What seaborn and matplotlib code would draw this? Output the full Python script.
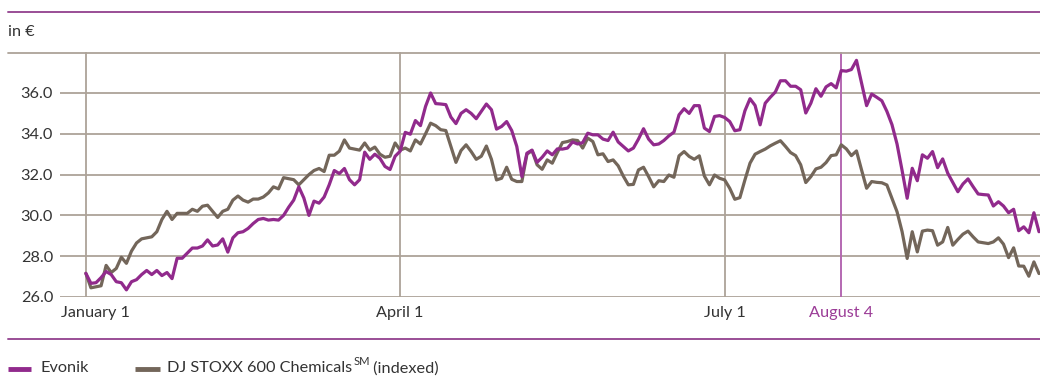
import matplotlib
matplotlib.use("Agg")
import matplotlib.pyplot as plt
from matplotlib.lines import Line2D
from matplotlib.transforms import ScaledTranslation
import pandas as pd
import seaborn as sns

# Daily closing prices 2015 (EUR), one value per trading session;
# the index is rebased to the Evonik start value
evonik = [
    27.16, 26.67, 26.70, 26.95, 27.25, 27.10, 26.75, 26.70, 26.35, 26.75,
    26.85, 27.10, 27.30, 27.10, 27.30, 27.05, 27.20, 26.90, 27.90, 27.90,
    28.15, 28.40, 28.40, 28.50, 28.80, 28.50, 28.55, 28.85, 28.20, 28.90,
    29.15, 29.20,
    29.36, 29.60, 29.80, 29.85, 29.77, 29.80, 29.77, 30.00, 30.40, 30.75,
    31.40, 30.85, 30.00, 30.70, 30.60, 30.90, 31.50, 32.20, 32.05, 32.30,
    31.75, 31.50, 31.75, 33.10, 32.75, 33.00, 32.80, 32.40, 32.25, 32.90,
    33.15,
    34.07, 33.98, 34.65, 34.40, 35.34, 36.00, 35.48, 35.46, 35.43, 34.82,
    34.50, 35.00, 35.18, 35.00, 34.74, 35.10, 35.46, 35.18, 34.23, 34.36,
    34.60, 34.16, 33.38, 31.90, 33.05, 33.20, 32.60, 32.85, 33.16, 32.97,
    33.26,
    33.25, 33.30, 33.60, 33.50, 33.57, 34.03, 33.95, 33.95, 33.74, 33.67,
    34.08, 33.60, 33.38, 33.16, 33.30, 33.74, 34.25, 33.74, 33.46, 33.50,
    33.67, 33.90, 34.08, 34.93, 35.23, 35.00, 35.38, 35.38, 34.28, 34.11,
    34.85, 34.89,
    34.80, 34.60, 34.15, 34.20, 35.13, 35.72, 35.39, 34.44, 35.50, 35.79,
    36.05, 36.60, 36.60, 36.33, 36.33, 36.16, 35.02, 35.50, 36.21, 35.84,
    36.30, 36.46, 36.25, 37.10, 37.07, 37.15, 37.60, 36.49, 35.38, 35.95,
    35.79, 35.62,
    35.10, 34.45, 33.50, 32.20, 30.84,
    32.31, 31.70, 32.97, 32.80, 33.13, 32.34, 32.77, 32.07, 31.61, 31.16,
    31.54, 31.79, 31.41, 31.05, 31.02, 31.00, 30.46, 30.67, 30.46, 30.13,
    30.30, 29.25, 29.44, 29.15, 30.13, 29.20,
]

stoxx = [
    27.16, 26.45, 26.50, 26.55, 27.55, 27.20, 27.40, 27.95, 27.65, 28.25,
    28.65, 28.85, 28.90, 28.95, 29.20, 29.80, 30.20, 29.80, 30.10, 30.10,
    30.10, 30.30, 30.20, 30.45, 30.50, 30.20, 29.90, 30.20, 30.30, 30.75,
    30.95, 30.75,
    30.65, 30.80, 30.80, 30.90, 31.10, 31.40, 31.30, 31.85, 31.80, 31.75,
    31.50, 31.75, 32.00, 32.20, 32.30, 32.15, 32.95, 32.95, 33.15, 33.70,
    33.30, 33.25, 33.20, 33.55, 33.20, 33.35, 33.00, 32.85, 32.90, 33.55,
    33.20,
    33.30, 33.16, 33.70, 33.50, 34.00, 34.52, 34.40, 34.20, 34.16, 33.38,
    32.60, 33.18, 33.46, 33.13, 32.75, 32.90, 33.40, 32.75, 31.74, 31.82,
    32.36, 31.77, 31.66, 31.66, 33.00, 33.18, 32.48, 32.26, 32.72, 32.56,
    33.08,
    33.57, 33.62, 33.70, 33.67, 33.30, 33.79, 33.62, 32.97, 33.02, 32.64,
    32.72, 32.43, 31.93, 31.50, 31.52, 32.23, 32.36, 31.90, 31.40, 31.70,
    31.66, 31.98, 31.87, 32.92, 33.13, 32.89, 32.75, 32.92, 31.93, 31.50,
    31.98, 31.82,
    31.74, 31.33, 30.79, 30.87, 31.74, 32.56, 33.00, 33.13, 33.25, 33.41,
    33.54, 33.66, 33.38, 33.08, 32.93, 32.48, 31.61, 31.90, 32.28, 32.36,
    32.59, 32.93, 32.97, 33.46, 33.26, 32.93, 33.16, 32.23, 31.33, 31.66,
    31.62, 31.60,
    31.49, 30.84, 30.18, 29.20, 27.89,
    29.20, 28.21, 29.23, 29.28, 29.25, 28.54, 28.70, 29.41, 28.54, 28.82,
    29.08, 29.23, 28.95, 28.70, 28.66, 28.62, 28.70, 28.90, 28.59, 27.93,
    28.41, 27.52, 27.51, 27.02, 27.72, 27.15,
]

series_names = ["Evonik", "DJ STOXX 600 Chemicals"]
y_ticks = [26.0, 28.0, 30.0, 32.0, 34.0, 36.0]
# trading-session numbers of the labelled dates
x_tick_sessions = [0, 62, 126]
x_tick_labels = ["January 1", "April 1", "July 1"]
marker_session = 149
marker_label = "August 4"
unit_label = "in €"

PURPLE = "#912A8C"
BROWN = "#73665A"
GRID = "#ADA398"
RULE = "#9A4E96"
TEXT = "#333333"
FS = 11.7

sns.set_theme(style="white")
plt.rcParams["font.family"] = ["Lato", "DejaVu Sans"]

n = len(evonik)
df = pd.DataFrame({
    "session": list(range(n)) * 2,
    "price": evonik + stoxx,
    "series": [series_names[0]] * n + [series_names[1]] * len(stoxx),
})

W, H = 1040, 376
fig = plt.figure(figsize=(W / 100, H / 100), dpi=100)


def fx(px):
    return px / W


def fy(py):
    return 1 - py / H


ax = fig.add_axes([fx(60), fy(297), 1 - fx(60), (297 - 52.2) / H])
ax.set_xlim(-5.1, 188.2)
ax.set_ylim(26, 38)

for y in y_ticks:
    ax.axhline(y, color=GRID, lw=1.3, zorder=0)
for s in x_tick_sessions:
    ax.axvline(s, color=GRID, lw=1.3, zorder=0)
ax.axvline(marker_session, color="#B468B2", lw=1.4, zorder=1)

sns.lineplot(data=df, x="session", y="price", hue="series",
             hue_order=series_names[::-1], palette=[BROWN, PURPLE],
             lw=2.3, legend=False, ax=ax, zorder=3)

for s in ax.spines.values():
    s.set_visible(False)
ax.set_xlabel("")
ax.set_ylabel("")
ax.set_yticks(y_ticks)
ax.set_yticklabels([f"{v:.1f}" for v in y_ticks])
ax.set_xticks(x_tick_sessions + [marker_session])
ax.set_xticklabels(x_tick_labels + [marker_label])
ax.tick_params(axis="both", length=0, labelsize=FS, colors=TEXT)
ax.tick_params(axis="y", pad=5)
ax.tick_params(axis="x", pad=6.5)
xl = ax.get_xticklabels()
xl[-1].set_color("#9B3C97")
xl[0].set_transform(xl[0].get_transform() + ScaledTranslation(0.10, 0, fig.dpi_scale_trans))

# frame rules and top gridline
fig.add_artist(Line2D([fx(8), 1], [fy(12), fy(12)], color=RULE, lw=1.4))
fig.add_artist(Line2D([fx(8), 1], [fy(339), fy(339)], color=RULE, lw=1.4))
fig.add_artist(Line2D([fx(8), 1], [fy(52.6), fy(52.6)], color=GRID, lw=1.3))
fig.text(fx(8), fy(32), unit_label, fontsize=FS, color=TEXT, va="center", ha="left")

# legend
LEG_Y = 368.5
fig.add_artist(Line2D([fx(8), fx(31)], [fy(LEG_Y), fy(LEG_Y)], color=PURPLE, lw=3.5,
                      solid_capstyle="butt"))
fig.text(fx(40), fy(LEG_Y), series_names[0], fontsize=FS, color=TEXT, va="center")
fig.add_artist(Line2D([fx(135), fx(160)], [fy(LEG_Y), fy(LEG_Y)], color=BROWN, lw=3.5,
                      solid_capstyle="butt"))
t1 = fig.text(fx(167), fy(LEG_Y), series_names[1], fontsize=FS, color=TEXT, va="center")
ax.annotate("SM", xy=(1, 0.62), xycoords=t1, xytext=(1, 0), textcoords="offset points",
            fontsize=8, color=TEXT, va="bottom", ha="left", annotation_clip=False)
ax.annotate(" (indexed)", xy=(1, 0.5), xycoords=t1, xytext=(12, 0), textcoords="offset points",
            fontsize=FS, color=TEXT, va="center", ha="left", annotation_clip=False)

fig.savefig("out.png", dpi=100)
